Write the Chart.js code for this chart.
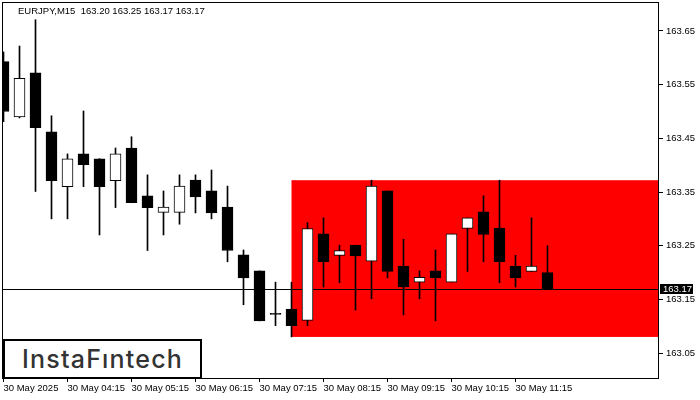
<!DOCTYPE html>
<html>
<head>
<meta charset="utf-8">
<script src="https://cdn.jsdelivr.net/npm/chart.js@4.4.0/dist/chart.umd.min.js"></script>
<style>
  html, body { margin: 0; padding: 0; background: #fff; }
  #wrap { position: relative; width: 700px; height: 400px; }
  #logo {
    position: absolute; left: 3px; top: 339px; width: 195px; height: 36px;
    border: 2px solid #000; background: #fff; color: #333;
    font: 500 25px Inter, "Open Sans", sans-serif; line-height: 36px; text-align: center;
    letter-spacing: 1.2px;
  }
</style>
</head>
<body>
<div id="wrap">
  <canvas id="chart" width="700" height="400"></canvas>
  <div id="logo">InstaFıntech</div>
</div>
<script>
const symbol = "EURJPY";
const period = "M15";
// one entry per 15 minute bar, first bar is 30 May 03:15
const opens  = [163.593,163.490,163.572,163.462,163.360,163.421,163.412,163.371,163.432,163.343,163.312,163.312,163.372,163.352,163.322,163.233,163.203,163.122,163.132,163.111,163.272,163.232,163.251,163.221,163.352,163.212,163.182,163.203,163.182,163.282,163.313,163.283,163.212,163.202,163.20];
const highs  = [163.611,163.622,163.671,163.492,163.421,163.501,163.412,163.432,163.453,163.382,163.352,163.382,163.382,163.391,163.361,163.242,163.203,163.182,163.182,163.293,163.302,163.251,163.251,163.372,163.352,163.262,163.203,163.242,163.272,163.302,163.343,163.372,163.232,163.302,163.25];
const lows   = [163.481,163.488,163.351,163.300,163.300,163.360,163.270,163.321,163.330,163.241,163.270,163.290,163.311,163.300,163.220,163.140,163.110,163.101,163.080,163.101,163.173,163.181,163.130,163.151,163.190,163.121,163.151,163.110,163.182,163.202,163.220,163.181,163.173,163.202,163.17];
const closes = [163.500,163.562,163.470,163.371,163.412,163.401,163.360,163.421,163.330,163.321,163.322,163.361,163.341,163.311,163.241,163.190,163.110,163.122,163.101,163.282,163.220,163.241,163.231,163.361,163.202,163.173,163.191,163.190,163.272,163.302,163.271,163.220,163.190,163.212,163.17];

const timeTicks  = [0, 4, 8, 12, 16, 20, 24, 28, 32];
const timeLabels = ["30 May 2025", "30 May 04:15", "30 May 05:15", "30 May 06:15", "30 May 07:15", "30 May 08:15", "30 May 09:15", "30 May 10:15", "30 May 11:15"];
const priceTicks = [163.05, 163.15, 163.25, 163.35, 163.45, 163.55, 163.65];

// rectangle pattern: starts at bar 18, spans the range high/low
const rangeStart = 18;
const rangeTop = 163.372;
const rangeBottom = 163.080;

const last = closes.length - 1;
const lastPrice = closes[last];

const bodies = opens.map((o, i) => ({ x: i, y: [o, closes[i]] }));
const wicks = lows.map((l, i) => ({ x: i, y: [l, highs[i]] }));
const bodyColors = opens.map((o, i) => closes[i] > o ? "#ffffff" : "#000000");

const FONT = "Liberation Sans";
Chart.defaults.font.family = FONT;
Chart.defaults.font.size = 9.5;
Chart.defaults.color = "#000";

const overlay = {
  id: "overlay",
  beforeDatasetsDraw(chart) {
    const { ctx, chartArea: a, scales: { x, y } } = chart;
    ctx.save();
    const left = x.getPixelForValue(rangeStart);
    const top = y.getPixelForValue(rangeTop);
    const bottom = y.getPixelForValue(rangeBottom);
    ctx.fillStyle = "#ff0000";
    ctx.fillRect(left, top, a.right - left, bottom - top);
    const py = Math.round(y.getPixelForValue(lastPrice)) + 0.5;
    ctx.strokeStyle = "#000";
    ctx.lineWidth = 1;
    ctx.beginPath();
    ctx.moveTo(a.left, py);
    ctx.lineTo(a.right, py);
    ctx.stroke();
    ctx.restore();
  },
  afterDraw(chart) {
    const { ctx, chartArea: a, scales: { y } } = chart;
    ctx.save();
    ctx.strokeStyle = "#000";
    ctx.lineWidth = 1;
    ctx.strokeRect(a.left + 0.5, a.top + 0.5, a.right - a.left - 1, a.bottom - a.top);
    ctx.font = "9.5px " + FONT;
    ctx.textBaseline = "middle";
    ctx.fillStyle = "#000";
    const t = symbol + "," + period + "  " + [opens[last], highs[last], lows[last], closes[last]].map(v => v.toFixed(2)).join(" ");
    ctx.fillText(t, 18, 11);
    // current price label on the axis
    const py = Math.round(y.getPixelForValue(lastPrice));
    ctx.fillRect(a.right + 1, py - 5, 33, 10);
    ctx.fillStyle = "#fff";
    ctx.fillText(lastPrice.toFixed(2), a.right + 4, py);
    ctx.restore();
  }
};

const chart = new Chart(document.getElementById("chart"), {
  type: "bar",
  data: {
    datasets: [
      {
        label: "body",
        data: bodies,
        backgroundColor: bodyColors,
        borderColor: "#000",
        borderWidth: 1,
        borderSkipped: false,
        barThickness: 11,
        minBarLength: 1,
        grouped: false,
        order: 0
      },
      {
        label: "wick",
        data: wicks,
        backgroundColor: "#000",
        borderWidth: 0,
        barThickness: 1,
        grouped: false,
        order: 1
      }
    ]
  },
  options: {
    responsive: false,
    animation: false,
    layout: { padding: { left: 2, top: 2, right: 0, bottom: 0 } },
    plugins: { legend: { display: false }, tooltip: { enabled: false } },
    scales: {
      x: {
        type: "linear",
        min: -0.09375,
        max: 40.96875,
        offset: false,
        border: { display: false },
        grid: { offset: false, drawOnChartArea: false, tickLength: 4, color: "#000" },
        ticks: {
          autoSkip: false, maxRotation: 0, minRotation: 0, align: "start", padding: 1,
          callback: (v) => timeLabels[timeTicks.indexOf(v)]
        },
        afterBuildTicks: (s) => { s.ticks = timeTicks.map(v => ({ value: v })); },
        afterFit: (s) => { s.height = 22; s.paddingLeft = 0; s.paddingRight = 0; }
      },
      y: {
        position: "right",
        min: 163.0035,
        max: 163.704,
        border: { display: false },
        grid: { drawOnChartArea: false, tickLength: 4, color: "#000" },
        ticks: { autoSkip: false, padding: 3, callback: (v) => v.toFixed(2) },
        afterBuildTicks: (s) => { s.ticks = priceTicks.map(v => ({ value: v })); },
        afterFit: (s) => { s.width = 41; s.paddingTop = 0; s.paddingBottom = 0; }
      }
    }
  },
  plugins: [overlay]
});
</script>
</body>
</html>
